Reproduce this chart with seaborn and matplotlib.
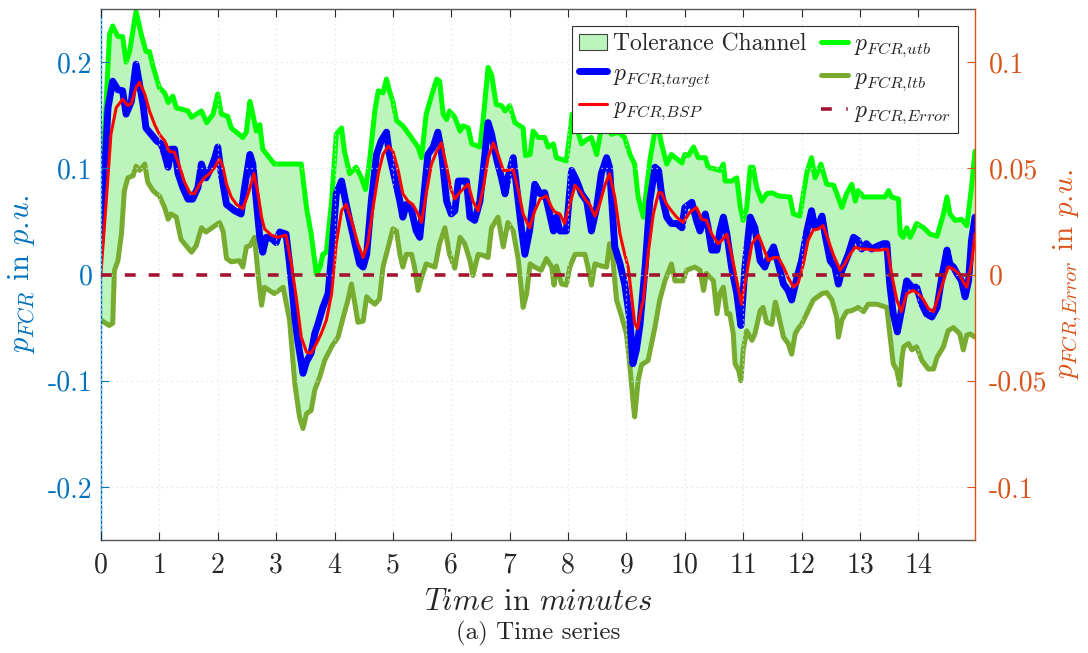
import numpy as np
import pandas as pd
import matplotlib
matplotlib.use("Agg")
import matplotlib.pyplot as plt
from matplotlib.patches import Patch
from matplotlib.lines import Line2D
import seaborn as sns

# ---------------- data (time in minutes, power in p.u.) ----------------
t_utb = [0, 0.146, 0.2, 0.29, 0.37, 0.43, 0.49, 0.6, 0.69, 0.77, 0.83, 0.89, 1.0, 1.09, 1.15, 1.23,
         1.29, 1.49, 1.55, 1.72, 1.81, 1.92, 2.0, 2.06, 2.17, 2.23, 2.43, 2.49, 2.55, 2.6, 2.66, 2.72,
         2.77, 2.97, 3.43, 3.52, 3.6, 3.69, 3.75, 3.8, 3.86, 3.95, 4.03, 4.12, 4.17, 4.26, 4.37, 4.46,
         4.53, 4.6, 4.69, 4.75, 4.83, 4.89, 4.94, 5.0, 5.06, 5.17, 5.29, 5.43, 5.49, 5.57, 5.66, 5.75,
         5.8, 5.86, 5.92, 5.97, 6.06, 6.15, 6.2, 6.29, 6.35, 6.49, 6.55, 6.63, 6.69, 6.77, 6.86, 6.92,
         7.0, 7.09, 7.23, 7.27, 7.35, 7.4, 7.49, 7.6, 7.66, 7.75, 7.8, 7.97, 8.03, 8.07, 8.15, 8.23,
         8.32, 8.4, 8.49, 8.57, 8.63, 8.74, 8.86, 8.97, 9.06, 9.14, 9.2, 9.29, 9.4, 9.52, 9.6, 9.69,
         9.77, 9.95, 10.0, 10.06, 10.15, 10.23, 10.35, 10.4, 10.6, 10.66, 10.69, 10.8, 10.89, 10.95,
         11.0, 11.06, 11.12, 11.17, 11.23, 11.32, 11.4, 11.49, 11.6, 11.8, 11.86, 11.97, 12.03, 12.09,
         12.17, 12.23, 12.33, 12.43, 12.55, 12.69, 12.77, 12.86, 12.92, 12.97, 13.06, 13.43, 13.49,
         13.54, 13.66, 13.69, 13.74, 13.8, 13.86, 13.97, 14.09, 14.2, 14.32, 14.43, 14.49, 14.54,
         14.63, 14.74, 14.83, 14.91, 14.97]
p_utb = [0.066, 0.226, 0.234, 0.224, 0.224, 0.200, 0.210, 0.248, 0.226, 0.210, 0.210, 0.196, 0.176,
         0.171, 0.162, 0.168, 0.157, 0.154, 0.148, 0.154, 0.143, 0.151, 0.170, 0.151, 0.149, 0.138,
         0.129, 0.134, 0.163, 0.151, 0.135, 0.141, 0.118, 0.104, 0.104, 0.063, 0.038, 0.0, 0.007,
         0.019, 0.021, 0.069, 0.132, 0.138, 0.116, 0.095, 0.101, 0.091, 0.080, 0.107, 0.154, 0.173,
         0.171, 0.184, 0.173, 0.163, 0.145, 0.140, 0.131, 0.120, 0.110, 0.151, 0.168, 0.184, 0.182,
         0.151, 0.146, 0.154, 0.148, 0.135, 0.140, 0.138, 0.123, 0.120, 0.148, 0.195, 0.188, 0.160,
         0.159, 0.154, 0.159, 0.143, 0.138, 0.112, 0.113, 0.135, 0.129, 0.129, 0.120, 0.123, 0.110,
         0.107, 0.132, 0.151, 0.138, 0.123, 0.127, 0.129, 0.113, 0.138, 0.150, 0.132, 0.134, 0.129,
         0.113, 0.104, 0.073, 0.054, 0.107, 0.146, 0.123, 0.104, 0.113, 0.105, 0.113, 0.112, 0.120,
         0.110, 0.110, 0.101, 0.098, 0.104, 0.088, 0.088, 0.091, 0.063, 0.051, 0.063, 0.101, 0.101,
         0.082, 0.069, 0.076, 0.077, 0.074, 0.073, 0.057, 0.055, 0.076, 0.096, 0.110, 0.091, 0.104,
         0.085, 0.084, 0.063, 0.076, 0.085, 0.069, 0.079, 0.073, 0.073, 0.079, 0.073, 0.071, 0.038,
         0.035, 0.044, 0.035, 0.048, 0.044, 0.038, 0.036, 0.057, 0.073, 0.057, 0.051, 0.052, 0.046,
         0.082, 0.116]

t_ltb = [0, 0.14, 0.2, 0.23, 0.29, 0.35, 0.4, 0.46, 0.55, 0.6, 0.66, 0.75, 0.8, 0.89, 0.95, 1.0,
         1.09, 1.15, 1.2, 1.29, 1.37, 1.46, 1.55, 1.63, 1.72, 1.8, 2.03, 2.09, 2.15, 2.23, 2.37, 2.43,
         2.49, 2.55, 2.63, 2.69, 2.75, 2.8, 2.97, 3.12, 3.23, 3.32, 3.4, 3.46, 3.52, 3.6, 3.66, 3.75,
         3.83, 3.95, 4.06, 4.15, 4.23, 4.29, 4.35, 4.4, 4.49, 4.55, 4.6, 4.69, 4.77, 4.83, 4.92, 5.0,
         5.06, 5.12, 5.17, 5.23, 5.32, 5.37, 5.43, 5.49, 5.57, 5.72, 5.8, 5.89, 5.97, 6.06, 6.15, 6.23,
         6.32, 6.37, 6.46, 6.55, 6.63, 6.69, 6.8, 6.89, 6.97, 7.06, 7.15, 7.23, 7.29, 7.35, 7.43, 7.54,
         7.63, 7.72, 7.76, 7.8, 7.89, 7.97, 8.03, 8.12, 8.29, 8.34, 8.4, 8.46, 8.57, 8.66, 8.71, 8.77,
         8.83, 8.92, 9.0, 9.06, 9.11, 9.14, 9.2, 9.26, 9.37, 9.49, 9.57, 9.66, 9.77, 9.83, 9.97, 10.03,
         10.17, 10.26, 10.32, 10.37, 10.49, 10.55, 10.6, 10.66, 10.72, 10.77, 10.83, 10.86, 10.92,
         10.96, 11.0, 11.06, 11.15, 11.2, 11.29, 11.34, 11.4, 11.49, 11.55, 11.6, 11.69, 11.77, 11.83,
         11.89, 11.94, 12.0, 12.2, 12.35, 12.43, 12.52, 12.6, 12.63, 12.69, 12.77, 12.86, 12.97, 13.06,
         13.14, 13.29, 13.46, 13.51, 13.57, 13.63, 13.68, 13.72, 13.75, 13.83, 13.89, 13.97, 14.06,
         14.17, 14.26, 14.32, 14.43, 14.51, 14.6, 14.71, 14.77, 14.83, 14.89, 14.97]
p_ltb = [-0.043, -0.048, -0.046, 0.004, 0.013, 0.038, 0.079, 0.091, 0.093, 0.102, 0.098, 0.104, 0.087,
         0.079, 0.076, 0.074, 0.063, 0.052, 0.057, 0.054, 0.033, 0.027, 0.021, 0.027, 0.044, 0.040,
         0.049, 0.041, 0.015, 0.012, 0.013, 0.007, 0.026, 0.027, 0.035, 0.0, -0.029, -0.012, -0.018,
         -0.012, -0.043, -0.103, -0.134, -0.145, -0.131, -0.128, -0.109, -0.096, -0.081, -0.068,
         -0.059, -0.040, -0.024, -0.009, -0.028, -0.045, -0.044, -0.021, -0.024, -0.028, -0.023,
         0.007, 0.026, 0.043, 0.041, 0.019, 0.007, 0.019, 0.019, 0.007, -0.015, -0.003, 0.010, 0.007,
         0.029, 0.044, 0.019, 0.006, 0.035, 0.029, 0.013, -0.001, 0.019, 0.018, 0.016, 0.044, 0.054,
         0.026, 0.049, 0.041, 0.013, -0.031, -0.018, 0.010, 0.007, 0.004, 0.015, 0.007, -0.010, 0.008,
         -0.009, -0.010, 0.007, 0.019, 0.019, 0.007, -0.010, 0.010, 0.008, 0.007, 0.029, 0.013,
         -0.024, -0.040, -0.056, -0.087, -0.118, -0.134, -0.100, -0.085, -0.081, -0.049, -0.024,
         -0.006, 0.010, -0.006, -0.006, 0.004, 0.007, 0.004, -0.015, 0.001, -0.006, -0.037, -0.018,
         -0.012, -0.037, -0.037, -0.056, -0.084, -0.090, -0.100, -0.071, -0.053, -0.062, -0.056,
         -0.034, -0.031, -0.045, -0.047, -0.026, -0.037, -0.059, -0.065, -0.075, -0.056, -0.051,
         -0.047, -0.024, -0.018, -0.017, -0.024, -0.040, -0.059, -0.043, -0.035, -0.034, -0.031,
         -0.035, -0.028, -0.028, -0.031, -0.056, -0.084, -0.090, -0.104, -0.078, -0.068, -0.065,
         -0.071, -0.068, -0.081, -0.089, -0.089, -0.078, -0.068, -0.053, -0.050, -0.056, -0.071,
         -0.057, -0.056, -0.059]

t_target = [0, 0.12, 0.2, 0.29, 0.37, 0.43, 0.52, 0.6, 0.66, 0.72, 0.77, 0.86, 0.95, 1.03, 1.09, 1.15,
            1.2, 1.26, 1.32, 1.4, 1.49, 1.57, 1.66, 1.72, 1.8, 1.89, 1.95, 2.0, 2.06, 2.15, 2.29, 2.4,
            2.46, 2.55, 2.6, 2.66, 2.72, 2.77, 2.83, 2.92, 3.0, 3.06, 3.17, 3.23, 3.32, 3.37, 3.46,
            3.52, 3.6, 3.66, 3.72, 3.8, 3.89, 3.95, 4.03, 4.12, 4.2, 4.26, 4.35, 4.43, 4.49, 4.55, 4.63,
            4.72, 4.8, 4.89, 4.94, 5.03, 5.12, 5.17, 5.23, 5.32, 5.4, 5.46, 5.54, 5.6, 5.69, 5.77, 5.83,
            5.92, 6.0, 6.06, 6.12, 6.26, 6.32, 6.4, 6.49, 6.57, 6.63, 6.69, 6.77, 6.86, 6.92, 6.97, 7.06,
            7.12, 7.2, 7.26, 7.34, 7.43, 7.52, 7.6, 7.66, 7.75, 7.8, 7.86, 7.97, 8.06, 8.15, 8.23, 8.32,
            8.4, 8.49, 8.57, 8.66, 8.71, 8.8, 8.89, 8.97, 9.06, 9.11, 9.17, 9.23, 9.32, 9.4, 9.49, 9.55,
            9.6, 9.69, 9.77, 9.86, 9.95, 10.0, 10.12, 10.2, 10.26, 10.35, 10.4, 10.46, 10.55, 10.6,
            10.66, 10.72, 10.8, 10.89, 10.96, 11.03, 11.12, 11.2, 11.29, 11.37, 11.43, 11.52, 11.6,
            11.69, 11.77, 11.83, 11.92, 12.0, 12.09, 12.17, 12.23, 12.29, 12.35, 12.4, 12.49, 12.57,
            12.63, 12.69, 12.8, 12.89, 12.97, 13.03, 13.11, 13.2, 13.31, 13.4, 13.46, 13.51, 13.57,
            13.64, 13.72, 13.8, 13.89, 13.97, 14.06, 14.14, 14.23, 14.32, 14.4, 14.49, 14.54, 14.6,
            14.66, 14.74, 14.8, 14.86, 14.91, 14.97]
p_target = [0.030, 0.157, 0.182, 0.174, 0.173, 0.151, 0.163, 0.198, 0.179, 0.160, 0.138, 0.132, 0.126,
            0.123, 0.113, 0.101, 0.118, 0.118, 0.095, 0.082, 0.071, 0.071, 0.082, 0.104, 0.091, 0.101,
            0.110, 0.120, 0.095, 0.066, 0.060, 0.057, 0.082, 0.113, 0.104, 0.069, 0.035, 0.021, 0.035,
            0.034, 0.030, 0.040, 0.038, 0.010, -0.040, -0.062, -0.093, -0.082, -0.074, -0.056, -0.046,
            -0.031, -0.018, 0.019, 0.076, 0.088, 0.066, 0.051, 0.029, 0.010, 0.007, 0.019, 0.069, 0.113,
            0.126, 0.134, 0.113, 0.091, 0.069, 0.054, 0.066, 0.060, 0.041, 0.035, 0.079, 0.113, 0.120,
            0.134, 0.116, 0.069, 0.057, 0.060, 0.088, 0.088, 0.054, 0.051, 0.069, 0.110, 0.143, 0.132,
            0.110, 0.091, 0.076, 0.091, 0.110, 0.082, 0.044, 0.019, 0.041, 0.085, 0.076, 0.077, 0.063,
            0.041, 0.054, 0.041, 0.041, 0.098, 0.088, 0.076, 0.069, 0.041, 0.063, 0.095, 0.110, 0.101,
            0.026, 0.010, -0.009, -0.043, -0.084, -0.071, -0.048, 0.007, 0.069, 0.101, 0.098, 0.076,
            0.054, 0.048, 0.048, 0.044, 0.063, 0.068, 0.051, 0.041, 0.057, 0.044, 0.023, 0.023, 0.041,
            0.054, 0.038, 0.007, -0.018, -0.048, 0.007, 0.054, 0.044, 0.013, 0.007, 0.016, 0.026, 0.010,
            -0.009, -0.015, -0.024, -0.003, 0.013, 0.041, 0.060, 0.044, 0.047, 0.055, 0.038, 0.013,
            0.007, -0.009, 0.004, 0.019, 0.035, 0.032, 0.024, 0.029, 0.024, 0.027, 0.029, 0.029, -0.009,
            -0.037, -0.054, -0.031, -0.006, -0.012, -0.012, -0.028, -0.037, -0.040, -0.031, -0.003,
            0.023, 0.010, 0.007, 0.001, -0.006, -0.021, -0.006, 0.032, 0.054]

t_bsp = [0, 0.09, 0.17, 0.26, 0.37, 0.46, 0.52, 0.6, 0.66, 0.75, 0.83, 0.92, 1.0, 1.09, 1.17, 1.26,
         1.35, 1.43, 1.52, 1.6, 1.69, 1.77, 1.86, 1.95, 2.03, 2.09, 2.15, 2.23, 2.32, 2.43, 2.52, 2.62,
         2.69, 2.75, 2.8, 2.92, 3.03, 3.17, 3.26, 3.35, 3.43, 3.52, 3.6, 3.69, 3.77, 3.86, 3.95, 4.03,
         4.12, 4.2, 4.29, 4.4, 4.49, 4.57, 4.66, 4.75, 4.83, 4.92, 5.0, 5.09, 5.17, 5.26, 5.34, 5.43,
         5.49, 5.57, 5.66, 5.75, 5.83, 5.92, 6.0, 6.06, 6.14, 6.23, 6.29, 6.37, 6.46, 6.55, 6.63, 6.72,
         6.8, 6.89, 6.97, 7.06, 7.15, 7.23, 7.34, 7.43, 7.52, 7.63, 7.72, 7.77, 7.86, 7.94, 8.03, 8.12,
         8.2, 8.29, 8.37, 8.46, 8.54, 8.63, 8.71, 8.8, 8.89, 8.97, 9.03, 9.09, 9.14, 9.19, 9.26, 9.29,
         9.37, 9.46, 9.55, 9.6, 9.69, 9.77, 9.86, 9.97, 10.09, 10.2, 10.29, 10.37, 10.46, 10.57, 10.63,
         10.72, 10.8, 10.89, 10.97, 11.06, 11.15, 11.26, 11.34, 11.43, 11.52, 11.6, 11.69, 11.77,
         11.86, 11.94, 12.03, 12.11, 12.2, 12.29, 12.37, 12.46, 12.54, 12.66, 12.74, 12.83, 12.92,
         13.0, 13.11, 13.23, 13.34, 13.47, 13.54, 13.63, 13.71, 13.8, 13.91, 14.0, 14.09, 14.17,
         14.26, 14.34, 14.43, 14.51, 14.6, 14.69, 14.77, 14.83, 14.91, 14.97]
p_bsp = [0.002, 0.069, 0.132, 0.157, 0.165, 0.159, 0.161, 0.176, 0.181, 0.170, 0.154, 0.141, 0.132,
         0.126, 0.116, 0.115, 0.101, 0.087, 0.077, 0.076, 0.085, 0.091, 0.095, 0.101, 0.109, 0.101,
         0.085, 0.073, 0.066, 0.062, 0.076, 0.095, 0.076, 0.054, 0.043, 0.037, 0.035, 0.037, 0.010,
         -0.024, -0.059, -0.073, -0.074, -0.065, -0.056, -0.043, -0.018, 0.029, 0.060, 0.066, 0.051,
         0.029, 0.016, 0.029, 0.063, 0.095, 0.113, 0.121, 0.116, 0.098, 0.076, 0.069, 0.066, 0.057,
         0.049, 0.076, 0.104, 0.116, 0.124, 0.101, 0.079, 0.071, 0.077, 0.082, 0.085, 0.069, 0.060,
         0.082, 0.110, 0.124, 0.113, 0.098, 0.098, 0.099, 0.079, 0.057, 0.044, 0.060, 0.071, 0.074,
         0.063, 0.059, 0.057, 0.048, 0.066, 0.084, 0.079, 0.071, 0.066, 0.055, 0.066, 0.084, 0.095,
         0.073, 0.038, 0.019, 0.007, -0.021, -0.046, -0.051, -0.030, -0.024, 0.019, 0.057, 0.077,
         0.077, 0.066, 0.060, 0.054, 0.049, 0.059, 0.063, 0.052, 0.051, 0.038, 0.029, 0.032, 0.038,
         0.019, -0.006, -0.028, 0.001, 0.029, 0.037, 0.026, 0.013, 0.016, 0.016, 0.007, -0.003,
         -0.012, -0.008, 0.010, 0.032, 0.042, 0.043, 0.046, 0.032, 0.019, 0.004, 0.010, 0.019, 0.026,
         0.024, 0.024, 0.023, 0.023, 0.024, 0.001, -0.024, -0.035, -0.018, -0.015, -0.018, -0.024,
         -0.032, -0.035, -0.021, -0.006, 0.007, 0.005, 0.001, -0.007, -0.012, 0.010, 0.038]

t_err = [0, 14.97]
p_err = [0.0, 0.0]

y_left_ticks = [-0.2, -0.1, 0, 0.1, 0.2]
y_left_labels = ["-0.2", "-0.1", "0", "0.1", "0.2"]
y_right_ticks = [-0.1, -0.05, 0, 0.05, 0.1]
y_right_labels = ["-0.1", "-0.05", "0", "0.05", "0.1"]
x_ticks = list(range(15))

# ---------------- style ----------------
sns.set_theme(style="white")
plt.rcParams["font.family"] = ["cmr10", "DejaVu Serif"]
plt.rcParams["mathtext.fontset"] = "cm"
plt.rcParams["axes.unicode_minus"] = False
plt.rcParams["axes.formatter.use_mathtext"] = True

C_LEFT = "#0072BD"
C_RIGHT = "#D95319"
C_UTB = "#00FF00"
C_LTB = "#77AC30"
C_TARGET = "#0000FF"
C_BSP = "#FF0000"
C_ERR = "#A2142F"
C_FILL = "#BBF5BB"
C_AX = "#262626"

fig = plt.figure(figsize=(10.88, 6.53), dpi=100)
ax = fig.add_axes([101 / 1088, 1 - 540 / 653, 874 / 1088, 531 / 653])
ax.set_facecolor("white")

# tolerance channel between lower and upper bound
band_x = np.concatenate([t_utb, t_ltb[::-1]])
band_y = np.concatenate([p_utb, p_ltb[::-1]])
ax.fill(band_x, band_y, color=C_FILL, lw=0, zorder=1)

df_utb = pd.DataFrame({"t": t_utb, "p": p_utb})
df_ltb = pd.DataFrame({"t": t_ltb, "p": p_ltb})
df_target = pd.DataFrame({"t": t_target, "p": p_target})
df_bsp = pd.DataFrame({"t": t_bsp, "p": p_bsp})
df_err = pd.DataFrame({"t": t_err, "p": p_err})

sns.lineplot(data=df_utb, x="t", y="p", ax=ax, color=C_UTB, lw=3.6, estimator=None, sort=False)
sns.lineplot(data=df_ltb, x="t", y="p", ax=ax, color=C_LTB, lw=3.6, estimator=None, sort=False)
sns.lineplot(data=df_target, x="t", y="p", ax=ax, color=C_TARGET, lw=5.0, estimator=None, sort=False)
sns.lineplot(data=df_bsp, x="t", y="p", ax=ax, color=C_BSP, lw=2.2, estimator=None, sort=False)

ax.set_xlim(0, 14.97)
ax.set_ylim(-0.25, 0.25)
ax.set_xticks(x_ticks)
ax.set_xticklabels([str(v) for v in x_ticks])
ax.set_yticks(y_left_ticks)
ax.set_yticklabels(y_left_labels)
ax.grid(True, which="major", color="#DDE3E8", linestyle=(0, (1, 3)), lw=0.9)
ax.set_axisbelow(False)

ax.tick_params(axis="x", direction="in", length=6, width=0.8, colors=C_AX, labelsize=20,
               top=True, bottom=True, pad=9, labelcolor="#262626")
ax.tick_params(axis="y", direction="in", length=6, width=0.8, colors=C_LEFT, labelsize=20,
               left=True, right=False, pad=6)
for s in ["top", "bottom"]:
    ax.spines[s].set_color("#555555")
    ax.spines[s].set_linewidth(1.0)
ax.spines["left"].set_color(C_LEFT)
ax.spines["left"].set_linewidth(1.0)
ax.spines["right"].set_visible(False)

ax.set_xlabel(r"$Time$ in $minutes$", fontsize=22, color="#262626", labelpad=7)
ax.set_ylabel(r"$p_{FCR}$ in $p.\!u.$", fontsize=22, color=C_LEFT, labelpad=8)

# right axis: error signal
ax2 = ax.twinx()
sns.lineplot(data=df_err, x="t", y="p", ax=ax2, color=C_ERR, lw=2.6, estimator=None, sort=False,
             linestyle=(0, (3.0, 3.6)))
ax2.set_ylim(-0.125, 0.125)
ax2.set_yticks(y_right_ticks)
ax2.set_yticklabels(y_right_labels)
ax2.tick_params(axis="y", direction="in", length=6, width=0.8, colors=C_RIGHT, labelsize=20, pad=10)
ax2.spines["right"].set_color(C_RIGHT)
ax2.spines["right"].set_linewidth(1.0)
for s in ["top", "bottom", "left"]:
    ax2.spines[s].set_visible(False)
ax2.set_ylabel(r"$p_{FCR,\!Error}$ in $p.\!u.$", fontsize=21, color=C_RIGHT, labelpad=3)
ax2.grid(False)

handles = [
    Patch(facecolor=C_FILL, edgecolor="#444444", lw=0.8),
    Line2D([], [], color=C_TARGET, lw=5.0),
    Line2D([], [], color=C_BSP, lw=2.2),
    Line2D([], [], color=C_UTB, lw=3.6),
    Line2D([], [], color=C_LTB, lw=3.6),
    Line2D([], [], color=C_ERR, lw=2.6, linestyle=(0, (3.0, 4.0, 0.4, 4.0))),
]
labels = [
    r"Tolerance Channel",
    r"$p_{FCR,\!target}$",
    r"$p_{FCR,\!BSP}$",
    r"$p_{FCR,\!utb}$",
    r"$p_{FCR,\!ltb}$",
    r"$p_{FCR,\!Error}$",
]
leg = ax2.legend(handles, labels, ncol=2, loc="upper right", bbox_to_anchor=(0.981, 0.968),
                 borderaxespad=0, fontsize=17, frameon=True, fancybox=False, framealpha=1,
                 edgecolor="#333333", handlelength=1.15, handletextpad=0.25, columnspacing=0.65,
                 labelspacing=0.3, borderpad=0.3)
leg.get_frame().set_linewidth(0.8)

fig.text(0.5 * (101 + 975) / 1088, 1 - 633 / 653, "(a) Time series", ha="center", va="center",
         fontsize=18, color="#262626")

fig.savefig("out.png", dpi=100)
